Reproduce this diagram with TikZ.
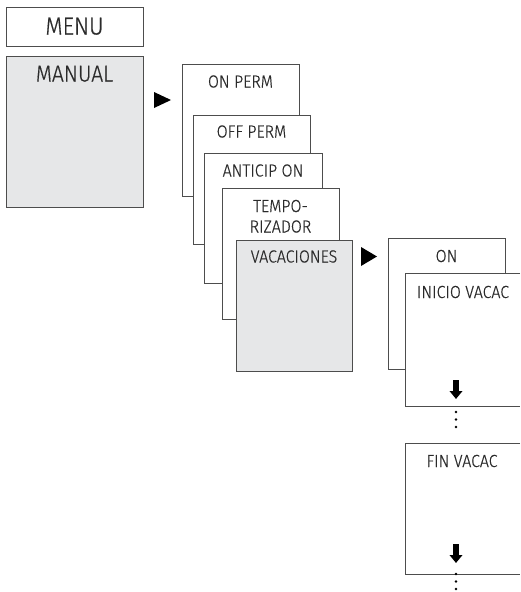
\documentclass[tikz,border=0pt]{standalone}
\usepackage{fontspec}
\setmainfont{Fira Sans}[UprightFont=* Light, FakeStretch=0.91, FakeBold=0.5]
\usetikzlibrary{arrows.meta,calc}
\definecolor{linec}{HTML}{4D4D4D}
\definecolor{boxgray}{HTML}{E6E7E8}
\definecolor{txt}{HTML}{2A2A2A}
\begin{document}
\begin{tikzpicture}[x=1pt,y=-1pt,
  box/.style={draw=linec, line width=0.9pt, fill=white, anchor=north west, inner sep=0pt, outer sep=0pt},
  gbox/.style={box, fill=boxgray},
  openbox/.style={fill=white, anchor=north west, inner sep=0pt, outer sep=0pt},
  edge/.style={draw=linec, line width=0.9pt},
  lbl/.style={anchor=base, text=txt, font=\fontsize{17.5}{20}\selectfont, inner sep=0pt},
  big/.style={lbl, font=\fontsize{24.5}{28}\selectfont},
  bigm/.style={lbl, font=\fontsize{23}{27}\selectfont},
  tri/.style={fill=black},
  darrow/.style={line width=5.5pt, draw=black, -{Triangle[length=8pt,width=12.5pt]}},
  dotmark/.style={circle, fill=black, inner sep=0pt, minimum size=2.8pt}
]
\useasboundingbox (0,0) rectangle (520,592);

% left column
\node[box, minimum width=137pt, minimum height=39pt] (menu) at (6,7) {};
\node[big] (menut) at ($(menu.north)+(0,27.5)$) {MENU};
\node[gbox, minimum width=137pt, minimum height=151pt] (manual) at (6,56) {};
\node[bigm] (manualt) at ($(manual.north)+(0,25.5)$) {MANUAL};

% arrow 1
\fill[tri] (154,92) -- (171,100) -- (154,108) -- cycle;

% stacked boxes
\node[box, minimum width=117pt, minimum height=132pt] (onperm) at (182,64) {};
\node[lbl] (onpermt) at ($(onperm.north)+(0,23.5)$) {ON PERM};
\node[box, minimum width=117pt, minimum height=129pt] (offperm) at (193,115) {};
\node[lbl] (offpermt) at ($(offperm.north)+(0,22.5)$) {OFF PERM};
\node[box, minimum width=118pt, minimum height=130pt] (anticip) at (204,153) {};
\node[lbl] (anticipt) at ($(anticip.north)+(0,23.5)$) {ANTICIP ON};
\node[box, minimum width=117pt, minimum height=131pt] (tempo) at (222,188) {};
\node[lbl] (tempot1) at ($(tempo.north)+(0,24)$) {TEMPO-};
\node[lbl] (tempot2) at ($(tempo.north)+(0,44.5)$) {RIZADOR};
\node[gbox, minimum width=116pt, minimum height=131pt] (vacac) at (236,240) {};
\node[lbl] (vacact) at ($(vacac.north)+(0,22.5)$) {VACACIONES};

% arrow 2
\fill[tri] (361,247) -- (377,256.5) -- (361,266) -- cycle;

% right column
\node[box, minimum width=117pt, minimum height=131pt] (on) at (388,238) {};
\node[lbl] (ont) at ($(on.north)+(0,24)$) {ON};
\node[openbox, minimum width=115pt, minimum height=133pt] (inicio) at (405,273) {};
\draw[edge] (inicio.north east) -- (inicio.north west) -- (inicio.south west) -- (inicio.south east);
\node[lbl] (iniciot) at ($(inicio.north west)+(58,25)$) {INICIO VACAC};
\coordinate (a1s) at (456,380);
\coordinate (a1e) at (456,399);
\draw[darrow] (a1s) -- (a1e);
\node[dotmark] (d1) at (456,412) {};
\node[dotmark] (d2) at (456,419.5) {};
\node[dotmark] (d3) at (456,427) {};

\node[openbox, minimum width=115pt, minimum height=131pt] (fin) at (405,443) {};
\draw[edge] (fin.north east) -- (fin.north west) -- (fin.south west) -- (fin.south east);
\node[lbl] (fint) at ($(fin.north west)+(57,24)$) {FIN VACAC};
\coordinate (a2s) at (456,544);
\coordinate (a2e) at (456,563);
\draw[darrow] (a2s) -- (a2e);
\node[dotmark] (e1) at (456,574) {};
\node[dotmark] (e2) at (456,581.5) {};
\node[dotmark] (e3) at (456,589) {};
\end{tikzpicture}
\end{document}
